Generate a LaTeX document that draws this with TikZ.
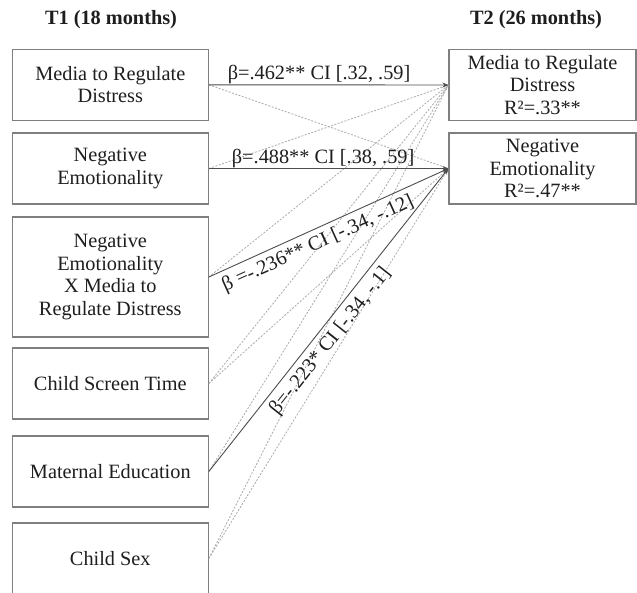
\documentclass[tikz,border=0pt]{standalone}
\usepackage{fontspec}
\setmainfont{Liberation Serif}
\usetikzlibrary{arrows.meta}
\definecolor{boxc}{HTML}{7F7F7F}
\definecolor{solidc}{HTML}{4D4D4D}
\definecolor{dashc}{HTML}{ABABAB}
\definecolor{txt}{HTML}{1E1E1E}
\tikzset{
 fnt/.style={font=\fontsize{20.3}{22.5}\selectfont},
 box/.style={draw=boxc, line width=1.1pt, align=center, inner sep=0pt, text=txt, fnt},
 lbox/.style={box, minimum width=196pt, minimum height=71pt},
 rbox/.style={box, minimum width=187pt, minimum height=71pt},
 sarrow/.style={draw=solidc, line width=0.9pt, -{Stealth[length=6pt,width=5pt]}},
 darrow/.style={draw=dashc, line width=0.8pt, dash pattern=on 2pt off 1.5pt},
 lbl/.style={text=txt, fnt, inner sep=0.5pt},
 slbl/.style={text=txt, fnt, inner sep=5pt, sloped, below},
 hdr/.style={text=txt, font=\fontsize{20.3}{22.5}\selectfont\bfseries}
}
\begin{document}
\begin{tikzpicture}[x=1pt,y=-1pt]
\useasboundingbox (0,0) rectangle (637,592);
\fill[white] (0,0) rectangle (637,592);
\node[hdr] (h1) at (111,20) {T1 (18 months)};
\node[hdr] (h2) at (536,20) {T2 (26 months)};
\node[lbox] (b1) at (110.3,84.8) {Media to Regulate\\Distress};
\node[lbox] (b2) at (110.3,168.5) {Negative\\Emotionality};
\node[lbox, minimum height=120pt] (b3) at (110.3,277) {Negative\\Emotionality\\X Media to\\Regulate Distress};
\node[lbox] (b4) at (110.3,383.5) {Child Screen Time};
\node[lbox] (b5) at (110.3,471.5) {Maternal Education};
\node[lbox] (b6) at (110.3,558.5) {Child Sex};
\node[rbox] (r1) at (542.5,85) {Media to Regulate\\Distress\\R²=.33**};
\node[rbox] (r2) at (542.5,168.5) {Negative\\Emotionality\\R²=.47**};
% dashed paths
\draw[darrow] (b1.east) -- (r2.west);
\draw[darrow] (b2.east) -- (r1.west);
\draw[darrow] (b3.east) -- (r1.west);
\draw[darrow] (b4.east) -- (r1.west);
\draw[darrow] (b4.east) -- (r2.west);
\draw[darrow] (b5.east) -- (r1.west);
\draw[darrow] (b6.east) -- (r1.west);
\draw[darrow] (b6.east) -- (r2.west);
% solid paths
\draw[sarrow] (b1.east) -- node[lbl, above, pos=0.46] {β=.462** CI [.32, .59]} (r1.west);
\draw[sarrow] (b2.east) -- node[lbl, above, pos=0.477] {β=.488** CI [.38, .59]} (r2.west);
\draw[sarrow] (b3.east) -- node[slbl, pos=0.43] {β =-.236** CI [-.34, -.12]} (r2.west);
\draw[sarrow] (b5.east) -- node[slbl, pos=0.46] {β=-.223* CI [-.34, -.1]} (r2.west);
\end{tikzpicture}
\end{document}
